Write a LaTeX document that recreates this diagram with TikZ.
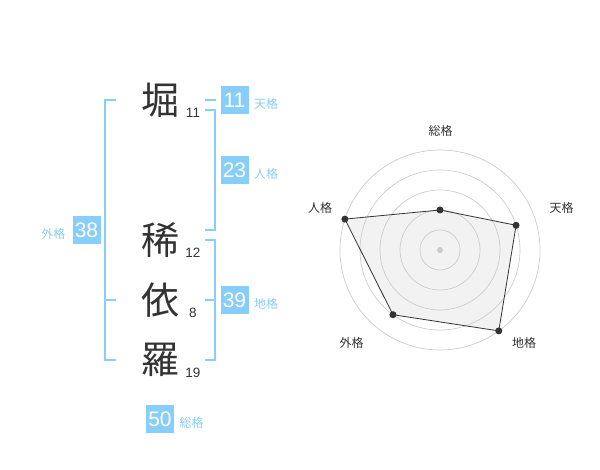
\documentclass[tikz,border=0pt]{standalone}
\usepackage{fontspec}
\setmainfont{Liberation Sans}
\newfontfamily\jpfont{Noto Sans CJK JP}
\definecolor{kakublue}{HTML}{87CEFA}
\definecolor{inkgray}{HTML}{333333}
\definecolor{ringgray}{HTML}{CCCCCC}
\definecolor{areagray}{HTML}{F2F2F2}

\begin{document}
\begin{tikzpicture}[x=1pt,y=-1pt,
    kanji/.style={text=inkgray,inner sep=0pt,font=\jpfont\fontsize{38}{38}\selectfont},
    strokes/.style={text=inkgray,inner sep=0pt,font=\fontsize{13.5}{14}\selectfont},
    kakubox/.style={fill=kakublue,text=white,minimum size=28pt,inner sep=0pt,font=\fontsize{21}{21}\selectfont},
    kakuname/.style={text=kakublue,inner sep=0pt,font=\jpfont\fontsize{12}{12}\selectfont},
    bracket/.style={draw=kakublue,line width=2pt},
    ring/.style={draw=ringgray,line width=0.7pt},
    dot/.style={circle,fill=inkgray,inner sep=0pt,minimum size=7pt},
    axisname/.style={text=inkgray,inner sep=0pt,font=\jpfont\fontsize{12}{12}\selectfont}]
    \useasboundingbox (0,0) rectangle (600,470);
    % name
    \node[kanji] (hori) at (160,100) {堀};
    \node[kanji] (ki) at (160,240) {稀};
    \node[kanji] (i) at (160,300) {依};
    \node[kanji] (ra) at (160,360) {羅};
    \node[strokes] (n-hori) at (193,113) {11};
    \node[strokes] (n-ki) at (193,253) {12};
    \node[strokes] (n-i) at (193,313) {8};
    \node[strokes] (n-ra) at (193,373) {19};
    % brackets
    \draw[bracket] (116,100) -- (105,100) -- (105,360) -- (116,360);
    \draw[bracket] (105,300) -- (116,300);
    \draw[bracket] (205,100) -- (215.5,100);
    \draw[bracket] (205,110) -- (214.5,110) -- (214.5,230) -- (205,230);
    \draw[bracket] (205,240) -- (214.5,240) -- (214.5,360) -- (205,360);
    \draw[bracket] (205,300) -- (214.5,300);
    % boxes
    \node[kakubox] (ten) at (234.5,100) {11};
    \node[kakubox] (jin) at (234.5,170) {23};
    \node[kakubox] (chi) at (234.5,300) {39};
    \node[kakubox] (gai) at (86.5,230) {38};
    \node[kakubox] (sou) at (160,419) {50};
    \node[kakuname,anchor=west] at (254,103.5) {天格};
    \node[kakuname,anchor=west] at (254,173.5) {人格};
    \node[kakuname,anchor=west] at (254,303.5) {地格};
    \node[kakuname,anchor=east] at (65.5,233.5) {外格};
    \node[kakuname,anchor=west] at (179.5,422.5) {総格};
    % chart
    \begin{scope}[shift={(440,250)}]
        \coordinate (r-sou) at (-90:40);
        \coordinate (r-ten) at (-18:80);
        \coordinate (r-chi) at (54:100);
        \coordinate (r-gai) at (126:80);
        \coordinate (r-jin) at (198:100);
        \fill[areagray] (r-sou) -- (r-ten) -- (r-chi) -- (r-gai) -- (r-jin) -- cycle;
        \foreach \r in {20,40,60,80,100}
            \draw[ring] (0,0) circle[radius=\r pt];
        \draw[inkgray,line width=0.8pt] (r-sou) -- (r-ten) -- (r-chi) -- (r-gai) -- (r-jin) -- cycle;
        \node[dot] (d-sou) at (r-sou) {};
        \node[dot] (d-ten) at (r-ten) {};
        \node[dot] (d-chi) at (r-chi) {};
        \node[dot] (d-gai) at (r-gai) {};
        \node[dot] (d-jin) at (r-jin) {};
        \node[circle,fill=ringgray,inner sep=0pt,minimum size=6pt] (O) at (0,0) {};
    \end{scope}
    \node[axisname] (a-sou) at (440.7,130.7) {総格};
    \node[axisname] (a-ten) at (561.7,208.3) {天格};
    \node[axisname] (a-chi) at (524,342.7) {地格};
    \node[axisname] (a-gai) at (351.7,342.7) {外格};
    \node[axisname] (a-jin) at (320,208.3) {人格};
\end{tikzpicture}
\end{document}
